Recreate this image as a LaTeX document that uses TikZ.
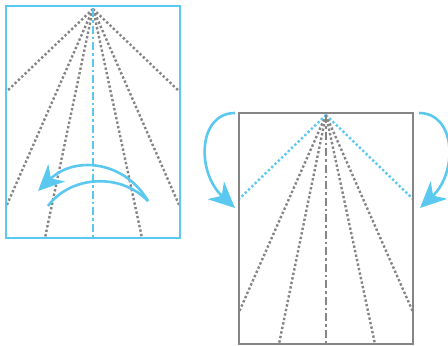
\documentclass[tikz,border=0pt]{standalone}
\usetikzlibrary{arrows.meta}
\definecolor{fblue}{HTML}{5BC8EF}
\definecolor{fgray}{HTML}{858585}
\tikzset{
  frame/.style={line width=2.6pt},
  fold/.style={line width=2.4pt, dash pattern=on 2.4pt off 2.2pt},
  axis/.style={line width=2.6pt, dash pattern=on 8pt off 3pt on 2.5pt off 3pt},
  turn/.style={fblue, line width=2.6pt, -{Stealth[length=26pt,width=24pt,inset=8pt]}},
}
\begin{document}
\begin{tikzpicture}[x=1pt,y=-1pt]
\useasboundingbox (0,0) rectangle (448,346);
% left sheet
\coordinate (A) at (93,9);
\coordinate (L1) at (6,92);   \coordinate (R1) at (180,92);
\coordinate (L2) at (6,207);  \coordinate (R2) at (180,207);
\coordinate (B1) at (45,238); \coordinate (B2) at (142,238);
\coordinate (BC) at (93,238);
\foreach \p in {L1,R1,L2,R2,B1,B2} \draw[fold,fgray] (A) -- (\p);
\draw[axis,fblue] (A) -- (BC);
\draw[frame,fblue] (6,6) rectangle (180,238);
% turn-over arrow
\coordinate (T1) at (48,206);
\coordinate (T2) at (148,201);
\coordinate (T3) at (38,191);
\draw[fblue,line width=2.6pt] (T1) .. controls (70,176) and (120,172) .. (T2);
\draw[turn] (T2) .. controls (124,160) and (74,156) .. (T3);
% right sheet
\coordinate (A2) at (326,115);
\coordinate (L3) at (239,199); \coordinate (R3) at (413,199);
\coordinate (L4) at (239,312); \coordinate (R4) at (413,312);
\coordinate (B3) at (279,344); \coordinate (B4) at (375,344);
\coordinate (BC2) at (326,344);
\foreach \p in {L4,R4,B3,B4} \draw[fold,fgray] (A2) -- (\p);
\draw[fold,fblue] (A2) -- (L3);
\draw[fold,fblue] (A2) -- (R3);
\draw[axis,fgray] (A2) -- (BC2);
\draw[frame,fgray] (239,113) rectangle (413,344);
% side fold arrows
\coordinate (S1) at (235,113); \coordinate (E1) at (235,208);
\coordinate (S2) at (419,113); \coordinate (E2) at (420,208);
\draw[turn] (S1) .. controls (198,113) and (196,172) .. (E1);
\draw[turn] (S2) .. controls (456,113) and (458,172) .. (E2);
\end{tikzpicture}
\end{document}
